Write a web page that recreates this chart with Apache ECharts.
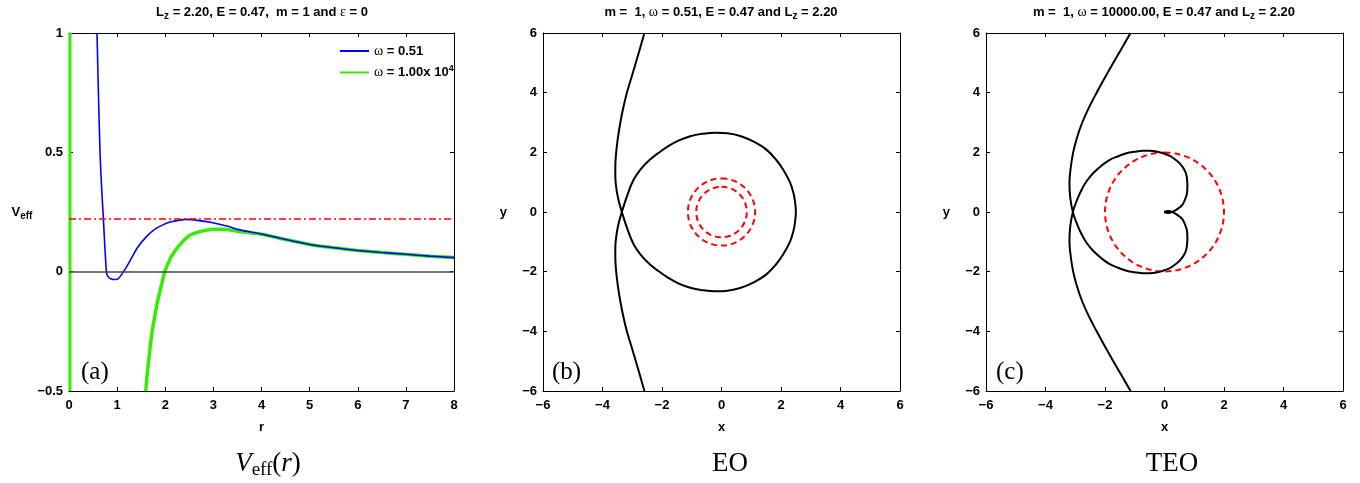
<!DOCTYPE html>
<html>
<head>
<meta charset="utf-8">
<script src="https://cdn.jsdelivr.net/npm/echarts@6/dist/echarts.min.js"></script>
<style>
body { margin: 0; background: #fff; }
#main { width: 1360px; height: 483px; }
</style>
</head>
<body>
<div id="main"></div>
<script>
// (a) effective potential, [r, Veff]
let blueCurve = [
    [0.582, 1.0], [0.61, 0.76], [0.645, 0.5], [0.68, 0.345], [0.715, 0.22], [0.745, 0.105],
    [0.777, 0.0], [0.79, -0.012], [0.81, -0.021], [0.84, -0.027], [0.88, -0.031], [0.93, -0.033],
    [0.98, -0.033], [1.03, -0.028], [1.08, -0.016], [1.12, -0.004], [1.18, 0.015], [1.26, 0.042],
    [1.42, 0.1], [1.61, 0.147], [1.78, 0.177], [1.95, 0.196], [2.12, 0.209], [2.3, 0.216],
    [2.44, 0.219], [2.7, 0.214], [2.99, 0.205], [3.3, 0.19], [3.55, 0.175], [4.0, 0.158],
    [4.5, 0.135], [5.0, 0.114], [5.5, 0.1], [6.0, 0.089], [6.5, 0.08], [7.0, 0.073],
    [7.5, 0.065], [8.0, 0.059]
];
let greenCurve = [
    [1.595, -0.5], [1.62, -0.44], [1.65, -0.385], [1.69, -0.31], [1.733, -0.244], [1.78, -0.19],
    [1.83, -0.135], [1.88, -0.09], [1.93, -0.048], [1.99, 0.0], [2.09, 0.049], [2.18, 0.08],
    [2.27, 0.105], [2.37, 0.128], [2.47, 0.147], [2.6, 0.16], [2.72, 0.168], [2.86, 0.174],
    [3.0, 0.178], [3.2, 0.178], [3.4, 0.173], [3.55, 0.168], [3.8, 0.162], [4.0, 0.157],
    [4.5, 0.135], [5.0, 0.114], [5.5, 0.1], [6.0, 0.089], [6.5, 0.08], [7.0, 0.073],
    [7.5, 0.065], [8.0, 0.059]
];
let greenWall = [[0.02, -0.5], [0.02, 1.0]];
let energyLevel = 0.2209;

// (b) EO orbit, [x, y]
let eoOrbit = [
    [-2.59, 6], [-2.735, 5.5], [-2.88, 5], [-3.03, 4.5], [-3.18, 4], [-3.3, 3.5], [-3.4, 3],
    [-3.48, 2.5], [-3.54, 2], [-3.57, 1.5], [-3.565, 1.1], [-3.52, 0.7], [-3.45, 0.35], [-3.35, 0],
    [-3.17, -0.55], [-2.96, -1.07], [-2.7, -1.45], [-2.42, -1.74], [-2.12, -1.98], [-1.8, -2.2],
    [-1.45, -2.39], [-1.05, -2.54], [-0.65, -2.62], [-0.21, -2.66], [0.2, -2.64], [0.63, -2.55],
    [1.1, -2.35], [1.5, -2.1], [1.83, -1.76], [2.08, -1.41], [2.3, -1.0], [2.42, -0.63],
    [2.47, -0.35], [2.5, 0],
    [2.47, 0.35], [2.42, 0.63], [2.3, 1.0], [2.08, 1.41], [1.83, 1.76], [1.5, 2.1],
    [1.1, 2.35], [0.63, 2.55], [0.2, 2.64], [-0.21, 2.66], [-0.65, 2.62], [-1.05, 2.54],
    [-1.45, 2.39], [-1.8, 2.2], [-2.12, 1.98], [-2.42, 1.74], [-2.7, 1.45], [-2.96, 1.07],
    [-3.17, 0.55], [-3.35, 0],
    [-3.45, -0.35], [-3.52, -0.7], [-3.565, -1.1], [-3.57, -1.5], [-3.54, -2], [-3.48, -2.5],
    [-3.4, -3], [-3.3, -3.5], [-3.18, -4], [-3.03, -4.5], [-2.88, -5], [-2.735, -5.5], [-2.59, -6]
];
let eoRings = [0.85, 1.13];

// (c) TEO orbit, [x, y]
let teoOrbit = [
    [-1.14, 6], [-1.43, 5.5], [-1.72, 5], [-2.005, 4.5], [-2.28, 4], [-2.54, 3.5], [-2.765, 3],
    [-2.94, 2.5], [-3.07, 2], [-3.15, 1.5], [-3.195, 1.0], [-3.17, 0.5], [-3.08, 0],
    [-2.95, -0.38], [-2.79, -0.74], [-2.62, -1.03], [-2.4, -1.3], [-2.12, -1.55], [-1.84, -1.75],
    [-1.56, -1.87], [-1.28, -1.97], [-1.0, -2.02], [-0.72, -2.05], [-0.5, -2.05], [-0.27, -2.03],
    [-0.05, -1.97], [0.18, -1.88], [0.35, -1.77], [0.51, -1.63], [0.63, -1.48], [0.72, -1.3],
    [0.76, -1.08], [0.77, -0.85], [0.75, -0.6], [0.68, -0.4], [0.6, -0.24], [0.46, -0.12],
    [0.3, -0.02], [0.12, 0.03], [0.01, 0], [0.12, -0.03], [0.3, 0.02],
    [0.46, 0.12], [0.6, 0.24], [0.68, 0.4], [0.75, 0.6], [0.77, 0.85], [0.76, 1.08],
    [0.72, 1.3], [0.63, 1.48], [0.51, 1.63], [0.35, 1.77], [0.18, 1.88], [-0.05, 1.97],
    [-0.27, 2.03], [-0.5, 2.05], [-0.72, 2.05], [-1.0, 2.02], [-1.28, 1.97], [-1.56, 1.87],
    [-1.84, 1.75], [-2.12, 1.55], [-2.4, 1.3], [-2.62, 1.03], [-2.79, 0.74], [-2.95, 0.38],
    [-3.08, 0],
    [-3.17, -0.5], [-3.195, -1.0], [-3.15, -1.5], [-3.07, -2], [-2.94, -2.5], [-2.765, -3],
    [-2.54, -3.5], [-2.28, -4], [-2.005, -4.5], [-1.72, -5], [-1.43, -5.5], [-1.14, -6]
];
let teoRings = [2.0];

// angles (deg) used to trace the dashed rings in polar coords
let ringAngles = [];
for (let a = 0; a <= 360; a += 4) {
    ringAngles.push(a);
}

let sans = 'Liberation Sans';
let serif = 'Liberation Serif';
let minus = function (v) { return v < 0 ? '\u2212' + Math.abs(v) : '' + v; };

let gridA = { left: 69, top: 33, width: 385, height: 358 };
let gridB = { left: 543, top: 33, width: 357, height: 358 };
let gridC = { left: 986, top: 33, width: 357, height: 358 };

let tickLabel = { color: '#000', fontFamily: sans, fontWeight: 'bold', fontSize: 13, formatter: minus };
let nameStyle = { color: '#000', fontFamily: sans, fontWeight: 'bold', fontSize: 13 };

function xAxes(gi, min, max, step, name) {
    return [{
        gridIndex: gi, type: 'value', min: min, max: max, interval: step,
        name: name, nameLocation: 'middle', nameGap: 30, nameTextStyle: nameStyle,
        axisLine: { onZero: false, lineStyle: { color: '#000', width: 1 } },
        axisTick: { inside: true, length: 4, lineStyle: { color: '#000' } },
        axisLabel: Object.assign({ margin: 8 }, tickLabel),
        splitLine: { show: false }
    }, {
        gridIndex: gi, type: 'value', position: 'top', min: min, max: max, interval: step,
        axisLine: { onZero: false, lineStyle: { color: '#000', width: 1 } },
        axisTick: { inside: true, length: 4, lineStyle: { color: '#000' } },
        axisLabel: { show: false }, splitLine: { show: false }
    }];
}

function yAxes(gi, min, max, step, name, rich) {
    return [{
        gridIndex: gi, type: 'value', min: min, max: max, interval: step,
        name: name, nameLocation: 'middle', nameRotate: 0, nameGap: 36,
        nameTextStyle: Object.assign({ rich: rich }, nameStyle),
        axisLine: { onZero: false, lineStyle: { color: '#000', width: 1 } },
        axisTick: { inside: true, length: 4, lineStyle: { color: '#000' } },
        axisLabel: Object.assign({ margin: 6 }, tickLabel),
        splitLine: { show: false }
    }, {
        gridIndex: gi, type: 'value', position: 'right', min: min, max: max, interval: step,
        axisLine: { onZero: false, lineStyle: { color: '#000', width: 1 } },
        axisTick: { inside: true, length: 4, lineStyle: { color: '#000' } },
        axisLabel: { show: false }, splitLine: { show: false }
    }];
}

let subRich = {
    v: { fontFamily: sans, fontWeight: 'bold', fontSize: 13, color: '#000' },
    s: { fontFamily: sans, fontWeight: 'bold', fontSize: 10, color: '#000', padding: [9, 0, 0, 0] }
};

let titleRich = {
    b: { fontFamily: sans, fontWeight: 'bold', fontSize: 13, color: '#000' },
    s: { fontFamily: sans, fontWeight: 'bold', fontSize: 10, color: '#000', padding: [9, 0, 0, 0] },
    g: { fontFamily: serif, fontSize: 14, color: '#000' }
};

let capRich = {
    i: { fontFamily: serif, fontStyle: 'italic', fontSize: 27, color: '#000' },
    n: { fontFamily: serif, fontSize: 27, color: '#000' },
    s: { fontFamily: serif, fontSize: 19, color: '#000', padding: [12, 0, 0, 0] }
};

let tagRich = { n: { fontFamily: serif, fontSize: 25, color: '#000' } };

function textEl(x, y, text, rich, align) {
    return {
        type: 'text', x: x, y: y, silent: true,
        style: { text: text, rich: rich, align: align || 'center', verticalAlign: 'middle', fill: '#000' }
    };
}

function ringSeries(radii, pi) {
    return radii.map(function (r) {
        return {
            type: 'line', coordinateSystem: 'polar', polarIndex: pi, symbol: 'none', silent: true,
            data: ringAngles.map(function (a) { return [r, a]; }),
            lineStyle: { color: '#ff0000', width: 2, type: [6, 4] }, z: 3
        };
    });
}

let chart = echarts.init(document.getElementById('main'));

let option = {
    animation: false,
    backgroundColor: '#fff',
    grid: [gridA, gridB, gridC],
    polar: [
        { center: [gridB.left + 178.5, gridB.top + 179], radius: 178.5 },
        { center: [gridC.left + 178.5, gridC.top + 179], radius: 178.5 }
    ],
    angleAxis: [
        { polarIndex: 0, type: 'value', min: 0, max: 360, show: false },
        { polarIndex: 1, type: 'value', min: 0, max: 360, show: false }
    ],
    radiusAxis: [
        { polarIndex: 0, type: 'value', min: 0, max: 6, show: false },
        { polarIndex: 1, type: 'value', min: 0, max: 6, show: false }
    ],
    xAxis: [].concat(
        xAxes(0, 0, 8, 1, 'r'),
        xAxes(1, -6, 6, 2, 'x'),
        xAxes(2, -6, 6, 2, 'x')
    ),
    yAxis: [].concat(
        yAxes(0, -0.5, 1, 0.5, '{v|V}{s|eff}', subRich),
        yAxes(1, -6, 6, 2, 'y', subRich),
        yAxes(2, -6, 6, 2, 'y', subRich)
    ),
    legend: {
        data: ['w1', 'w2'],
        orient: 'vertical', left: 334, top: 39,
        itemWidth: 29, itemHeight: 14, itemGap: 6, itemStyle: { opacity: 0 },
        formatter: function (n) {
            return n === 'w1' ? '{g|ω}{b| = 0.51}' : '{g|ω}{b| = 1.00x 10}{p|4}';
        },
        textStyle: {
            rich: {
                b: { fontFamily: sans, fontWeight: 'bold', fontSize: 13, color: '#000' },
                g: { fontFamily: serif, fontSize: 14, color: '#000' },
                p: { fontFamily: sans, fontWeight: 'bold', fontSize: 9, color: '#000', padding: [0, 0, 8, 0] }
            }
        }
    },
    graphic: [
        textEl(262, 12, '{b|L}{s|z}{b| = 2.20, E = 0.47,  m = 1 and }{g|ε}{b| = 0}', titleRich),
        textEl(721, 12, '{b|m =  1, }{g|ω}{b| = 0.51, E = 0.47 and L}{s|z}{b| = 2.20}', titleRich),
        textEl(1164, 12, '{b|m =  1, }{g|ω}{b| = 10000.00, E = 0.47 and L}{s|z}{b| = 2.20}', titleRich),
        textEl(81, 372, '{n|(a)}', tagRich, 'left'),
        textEl(552, 372, '{n|(b)}', tagRich, 'left'),
        textEl(996, 372, '{n|(c)}', tagRich, 'left'),
        textEl(268, 464, '{i|V}{s|eff}{n|(}{i|r}{n|)}', capRich),
        textEl(730, 464, '{n|EO}', capRich),
        textEl(1172, 464, '{n|TEO}', capRich)
    ],
    series: [
        {
            name: 'w1', type: 'line', xAxisIndex: 0, yAxisIndex: 0, data: blueCurve,
            symbol: 'none', smooth: 0.3, z: 4,
            lineStyle: { color: '#0000ff', width: 1.6 }, itemStyle: { color: '#0000ff' },
            markLine: {
                silent: true, symbol: 'none', label: { show: false },
                data: [
                    { yAxis: 0, lineStyle: { color: '#444', type: 'solid', width: 1.5 } },
                    { yAxis: energyLevel, lineStyle: { color: '#ff0000', type: [7, 3, 2, 3], width: 1.5 } }
                ]
            }
        },
        {
            name: 'w2', type: 'line', xAxisIndex: 0, yAxisIndex: 0, data: greenCurve,
            symbol: 'none', smooth: 0.3, z: 3,
            lineStyle: { color: '#33ee00', width: 3.5 }, itemStyle: { color: '#33ee00' }
        },
        {
            name: 'w2', type: 'line', xAxisIndex: 0, yAxisIndex: 0, data: greenWall,
            symbol: 'none', z: 3,
            lineStyle: { color: '#33ee00', width: 3 }
        },
        {
            type: 'line', xAxisIndex: 2, yAxisIndex: 2, data: eoOrbit,
            symbol: 'none', smooth: 0.4, z: 4,
            lineStyle: { color: '#000', width: 2 }
        },
        {
            type: 'line', xAxisIndex: 4, yAxisIndex: 4, data: teoOrbit,
            symbol: 'none', smooth: 0.4, z: 4,
            lineStyle: { color: '#000', width: 2 }
        }
    ].concat(ringSeries(eoRings, 0), ringSeries(teoRings, 1))
};

chart.setOption(option);
</script>
</body>
</html>
